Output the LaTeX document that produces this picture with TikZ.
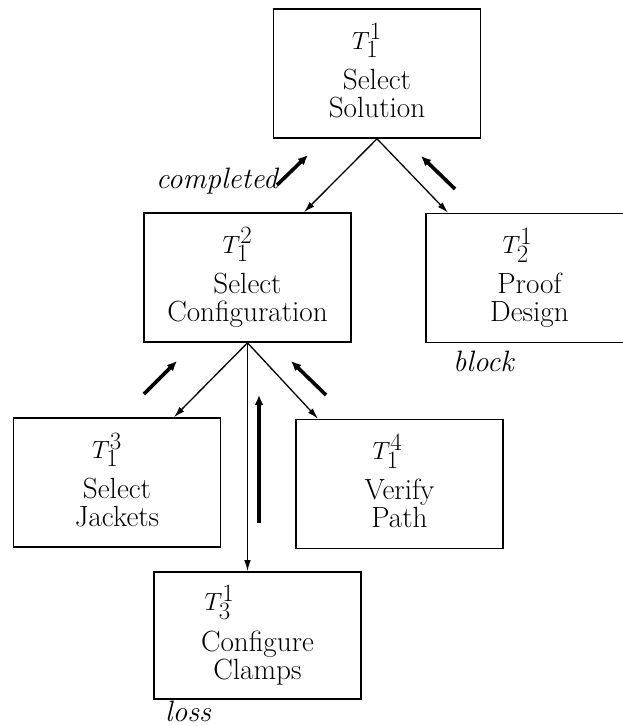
\documentclass[tikz,border=0pt]{standalone}
\usetikzlibrary{arrows.meta}
\newcommand{\tlab}[3]{\hspace*{-#1pt}{\fontsize{33}{28}\selectfont$T_{#2}^{#3}$}}
\begin{document}
\begin{tikzpicture}[x=1pt,y=-1pt,
  box/.style={draw, line width=1.6pt, minimum width=207pt, minimum height=129pt, inner sep=0pt, align=center, font=\fontsize{29.2}{28}\selectfont, text depth=6pt},
  link/.style={line width=1.3pt, -{Latex[length=11pt,width=6.5pt]}},
  flow/.style={line width=3.6pt, -{Latex[length=10pt,width=9pt]}},
  lab/.style={font=\fontsize{29.5}{28}\selectfont\itshape, inner sep=0pt}]
\useasboundingbox[fill=white] (0,0) rectangle (623,726);

\node[box] (A) at (377,73.5) {\tlab{20}{1}{1}\\[10pt]Select\\Solution};
\node[box] (B) at (247.5,277.5) {\tlab{20}{1}{2}\\[10pt]Select\\Configuration};
\node[box] (C) at (529.5,278) {\tlab{24}{2}{1}\\[10pt]Proof\\Design};
\node[box] (D) at (117,482.5) {\tlab{20}{1}{3}\\[10pt]Select\\Jackets};
\node[box] (E) at (399.5,484) {\tlab{24}{1}{4}\\[10pt]Verify\\Path};
\node[box, minimum height=127pt] (F) at (257.5,635.5) {\tlab{76}{3}{1}\\[10pt]Configure\\Clamps};

\draw[link] (A.south) -- ([xshift=56.5pt]B.north);
\draw[link] (A.south) -- ([xshift=-81.5pt]C.north);
\draw[link] (B.south) -- ([xshift=57pt]D.north);
\draw[link] (B.south) -- (B.south |- F.north);
\draw[link] (B.south) -- ([xshift=-81.5pt]E.north);

\coordinate (f1s) at (277,185); \coordinate (f1e) at (308,155);
\coordinate (f2s) at (455,189); \coordinate (f2e) at (421,156);
\coordinate (f3s) at (144,394); \coordinate (f3e) at (177,361);
\coordinate (f4s) at (326,395); \coordinate (f4e) at (291,361);
\coordinate (f5s) at (259,523); \coordinate (f5e) at (259,395);
\draw[flow] (f1s) -- (f1e);
\draw[flow] (f2s) -- (f2e);
\draw[flow] (f3s) -- (f3e);
\draw[flow] (f4s) -- (f4e);
\draw[flow] (f5s) -- (f5e);

\node[lab, anchor=base east] (lc) at (278,188) {completed};
\node[lab, anchor=base west] (lb) at (453,371) {block};
\node[lab, anchor=base west] (ll) at (165,721) {loss};
\end{tikzpicture}
\end{document}
